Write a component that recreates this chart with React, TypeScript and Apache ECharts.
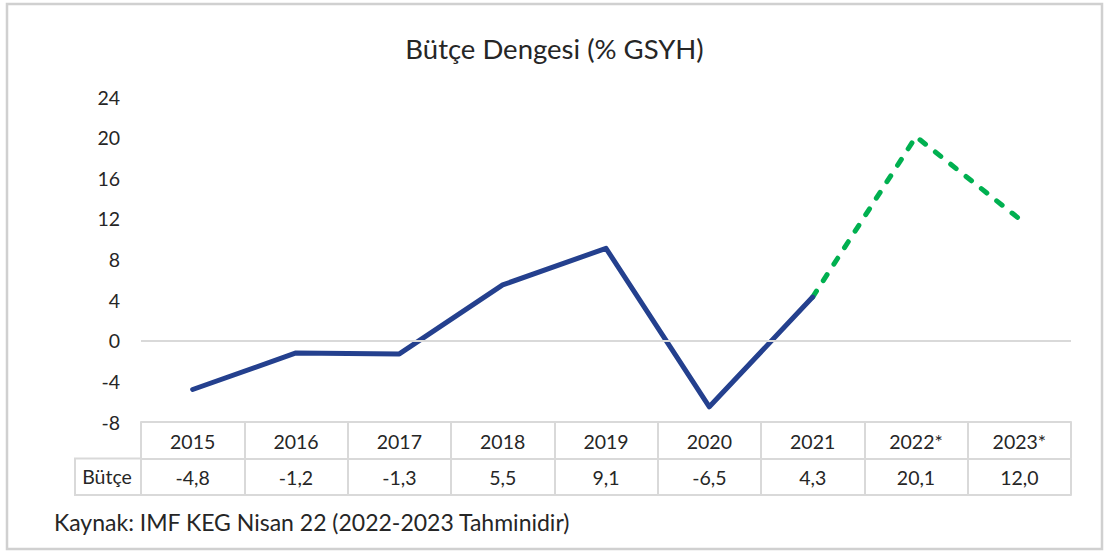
import React, { useEffect, useRef } from "react";
import * as echarts from "echarts";

const years = ["2015", "2016", "2017", "2018", "2019", "2020", "2021", "2022*", "2023*"];
const budget = [-4.8, -1.2, -1.3, 5.5, 9.1, -6.5, 4.3, 20.1, 12.0];
const actualCount = 7; // 2015-2021 actual, 2022-2023 estimates
const yMin = -8;
const yMax = 24;
const yStep = 4;
const titleText = "Bütçe Dengesi (% GSYH)";
const rowLabel = "Bütçe";
const sourceText = "Kaynak: IMF KEG Nisan 22 (2022-2023 Tahminidir)";

const FONT = "Lato, 'Open Sans', sans-serif";
const TXT = "#262626";
const BORDER = "#d9d9d9";

export default function App() {
  const ref = useRef<HTMLDivElement>(null);
  useEffect(() => {
    if (!ref.current) return;
    const chart = echarts.init(ref.current, null, { renderer: "svg" });
    const actual = budget.map((v, i) => (i < actualCount ? v : null));
    const est = budget.map((v, i) => (i >= actualCount - 1 ? v : null));
    const fmt = (v: number) => v.toFixed(1).replace(".", ",");
    const gridLeft = 141;
    const gridRight = 38;
    const gridTop = 97;
    const gridBottom = 129;
    const row = 36.5;
    const axisTop = 551 - gridBottom;
    const fs = 19.5;
    chart.setOption({
      animation: false,
      backgroundColor: "#fff",
      title: {
        text: titleText,
        left: "center",
        top: 29,
        textStyle: { fontFamily: FONT, fontSize: 27.5, fontWeight: "normal", color: TXT },
      },
      grid: { left: gridLeft, right: gridRight, top: gridTop, bottom: gridBottom },
      xAxis: [
        {
          type: "category",
          data: years,
          position: "bottom",
          axisLine: { onZero: false, lineStyle: { color: BORDER, width: 2 } },
          axisTick: { show: true, length: row, lineStyle: { color: BORDER, width: 2 } },
          axisLabel: { fontFamily: FONT, fontSize: fs, color: TXT, margin: 9 },
        },
        {
          type: "category",
          data: budget.map(fmt),
          position: "bottom",
          offset: row,
          axisLine: { onZero: false, lineStyle: { color: BORDER, width: 2 } },
          axisTick: { show: true, length: row, lineStyle: { color: BORDER, width: 2 } },
          axisLabel: { fontFamily: FONT, fontSize: fs, color: TXT, margin: 9 },
        },
        {
          type: "category",
          data: years.map(() => ""),
          position: "bottom",
          offset: row * 2,
          axisLine: { onZero: false, lineStyle: { color: BORDER, width: 2 } },
          axisTick: { show: false },
          axisLabel: { show: false },
        },
      ],
      yAxis: {
        type: "value",
        min: yMin,
        max: yMax,
        interval: yStep,
        axisLine: { show: false },
        axisTick: { show: false },
        splitLine: { show: false },
        axisLabel: { fontFamily: FONT, fontSize: fs, color: TXT, margin: 21 },
      },
      series: [
        {
          type: "line",
          data: actual,
          xAxisIndex: 0,
          symbol: "none",
          lineStyle: { color: "#24408E", width: 5, cap: "round", join: "round" },
          markLine: {
            silent: true,
            symbol: "none",
            label: { show: false },
            lineStyle: { color: BORDER, width: 2, type: "solid" },
            data: [{ yAxis: 0 }],
          },
          z: 3,
        },
        {
          type: "line",
          data: est,
          xAxisIndex: 0,
          symbol: "none",
          lineStyle: { color: "#00B050", width: 5, type: [7, 12.6], cap: "round", join: "round" },
          z: 2,
        },
      ],
      graphic: [
        {
          type: "rect",
          shape: { x: 7, y: 4, width: 1095, height: 545 },
          style: { fill: "none", stroke: "#d0d0d0", lineWidth: 2.5 },
          silent: true,
        },
        {
          type: "rect",
          shape: { x: 75, y: axisTop + row, width: gridLeft - 75, height: row },
          style: { fill: "none", stroke: BORDER, lineWidth: 2 },
          silent: true,
        },
        {
          type: "text",
          x: 107,
          y: axisTop + row * 1.5,
          style: {
            text: rowLabel,
            fontFamily: FONT,
            fontSize: fs,
            fill: TXT,
            align: "center",
            verticalAlign: "middle",
          },
        },
        {
          type: "text",
          x: 54,
          y: 522,
          style: {
            text: sourceText,
            fontFamily: FONT,
            fontSize: 23,
            fill: TXT,
            align: "left",
            verticalAlign: "middle",
          },
        },
      ],
    });
    return () => chart.dispose();
  }, []);
  return (
    <div
      ref={ref}
      style={{ position: "absolute", left: 0, top: 0, width: 1109, height: 551 }}
    />
  );
}
